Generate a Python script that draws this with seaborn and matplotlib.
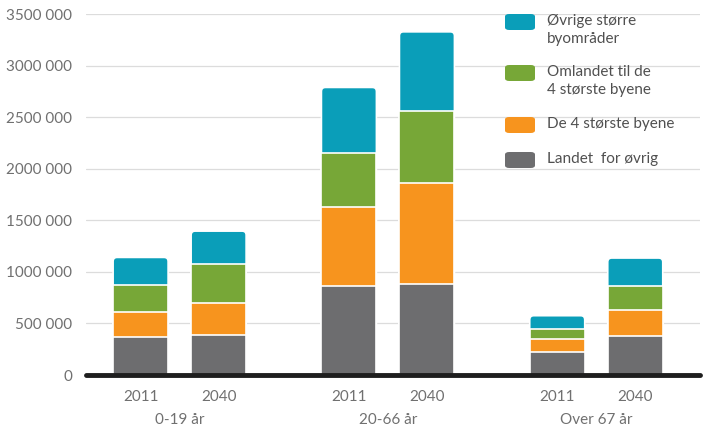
import matplotlib.pyplot as plt
import matplotlib.transforms as mtransforms
import numpy as np
import pandas as pd
import seaborn as sns
from matplotlib.patches import FancyBboxPatch

# Data (persons)
groups = ["0-19 år", "20-66 år", "Over 67 år"]
years = ["2011", "2040"]
landet = [368000, 385000, 862000, 885000, 220000, 381000]
store4 = [239000, 313000, 769000, 972000, 129000, 249000]
omland = [265000, 375000, 523000, 698000, 94000, 232000]
ovrige = [268000, 322000, 634000, 772000, 132000, 272000]

series = ["Landet  for øvrig", "De 4 største byene",
          "Omlandet til de\n4 største byene", "Øvrige større\nbyområder"]
colors = ["#6d6d6f", "#f7941e", "#77a737", "#0a9eb9"]
values = [landet, store4, omland, ovrige]

group_gap = 2.67
pos = [g * group_gap + i for g in range(len(groups)) for i in range(len(years))]

df = pd.DataFrame({"pos": pos})
cum = np.cumsum(np.array(values), axis=0)
for name, c in zip(series, cum):
    df[name] = c

sns.set_style("white")
plt.rcParams["font.family"] = ["Lato", "DejaVu Sans"]
text_col = "#707070"

fig = plt.figure(figsize=(7.07, 4.36), dpi=100)
ax = fig.add_axes([86 / 707, 61 / 436, 614 / 707, 361 / 436])

# draw tallest layer first, each lower layer on top of it
for name, col in reversed(list(zip(series, colors))):
    sns.barplot(data=df, x="pos", y=name, native_scale=True, orient="x",
                color=col, width=0.705, edgecolor="white", linewidth=1.2,
                errorbar=None, ax=ax, saturation=1, zorder=3)

ax.set_xlim(-0.70, 7.17)
ax.set_ylim(0, 3500000)

# round the top corners of the full-height (first drawn) bars
px_x = 614 / (7.17 + 0.70)          # pixels per x unit
px_y = 361 / 3500000                # pixels per y unit
aspect = px_x / px_y
for p in list(ax.patches[:len(pos)]):
    x, y = p.get_x(), p.get_y()
    w, h = p.get_width(), p.get_height()
    rp = FancyBboxPatch((x, y), w, h,
                        boxstyle=f"round,pad=0,rounding_size={4 / px_x}",
                        mutation_aspect=aspect, facecolor=p.get_facecolor(),
                        edgecolor="white", linewidth=1.2, zorder=2.9)
    p.remove()
    ax.add_patch(rp)

ax.set_yticks(np.arange(0, 3500001, 500000))
ax.set_yticklabels(["0" if v == 0 else f"{int(v // 1000)} 000"
                    for v in np.arange(0, 3500001, 500000)])
ax.set_xticks(pos)
ax.set_xticklabels(years * len(groups))
ax.tick_params(axis="both", length=0, labelsize=11, colors=text_col)
ax.tick_params(axis="x", pad=11)
ax.tick_params(axis="y", pad=10)
ax.set_xlabel("")
ax.set_ylabel("")
ax.grid(axis="y", color="#dcdcdc", linewidth=0.9, zorder=0)
ax.grid(axis="x", visible=False)
for s in ax.spines.values():
    s.set_visible(False)
ax.axhline(0, color="#1e1e1e", linewidth=3.5, zorder=4, clip_on=False)

trans = mtransforms.blended_transform_factory(ax.transData, ax.transAxes)
for g, name in enumerate(groups):
    ax.text(g * group_gap + 0.5, -0.125, name, transform=trans, ha="center",
            va="center", fontsize=11, color=text_col)

# legend drawn by hand in pixel positions
legend_rows = [(series[3], colors[3], 22), (series[2], colors[2], 73),
               (series[1], colors[1], 125), (series[0], colors[0], 160)]
for label, col, yc in legend_rows:
    y0 = 436 - yc
    fig.patches.append(FancyBboxPatch(
        (505 / 707, (y0 - 8) / 436), 30 / 707, 16 / 436,
        boxstyle="round,pad=0,rounding_size=0.006",
        transform=fig.transFigure, facecolor=col, edgecolor="none"))
    fig.text(547 / 707, (y0 + 8) / 436, label, ha="left", va="top",
             fontsize=11, color="#505050", linespacing=1.4)

fig.savefig("out.png", dpi=100)
